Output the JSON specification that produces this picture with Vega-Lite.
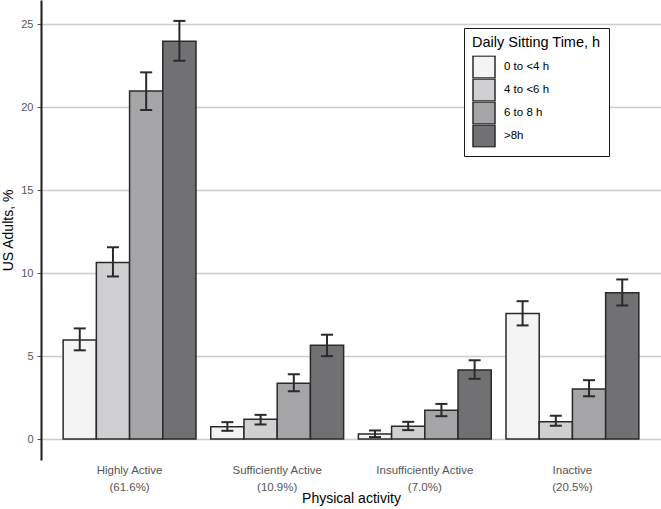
{
  "$schema": "https://vega.github.io/schema/vega-lite/v6.json",
  "width": 620,
  "height": 460,
  "autosize": "none",
  "padding": {"left": 41, "top": 0, "right": 0, "bottom": 49},
  "config": {
    "font": "Liberation Sans",
    "view": {"stroke": null}
  },
  "data": {
    "values": [
      {"activity": "Highly Active|(61.6%)", "sitting": "0 to <4 h", "value": 5.97, "lo": 5.35, "hi": 6.67},
      {"activity": "Highly Active|(61.6%)", "sitting": "4 to <6 h", "value": 10.64, "lo": 9.8, "hi": 11.56},
      {"activity": "Highly Active|(61.6%)", "sitting": "6 to 8 h", "value": 20.97, "lo": 19.83, "hi": 22.1},
      {"activity": "Highly Active|(61.6%)", "sitting": ">8h", "value": 23.98, "lo": 22.8, "hi": 25.2},
      {"activity": "Sufficiently Active|(10.9%)", "sitting": "0 to <4 h", "value": 0.74, "lo": 0.5, "hi": 1.02},
      {"activity": "Sufficiently Active|(10.9%)", "sitting": "4 to <6 h", "value": 1.2, "lo": 0.88, "hi": 1.46},
      {"activity": "Sufficiently Active|(10.9%)", "sitting": "6 to 8 h", "value": 3.37, "lo": 2.88, "hi": 3.9},
      {"activity": "Sufficiently Active|(10.9%)", "sitting": ">8h", "value": 5.65, "lo": 5.0, "hi": 6.29},
      {"activity": "Insufficiently Active|(7.0%)", "sitting": "0 to <4 h", "value": 0.3, "lo": 0.12, "hi": 0.52},
      {"activity": "Insufficiently Active|(7.0%)", "sitting": "4 to <6 h", "value": 0.78, "lo": 0.54, "hi": 1.04},
      {"activity": "Insufficiently Active|(7.0%)", "sitting": "6 to 8 h", "value": 1.74, "lo": 1.38, "hi": 2.12},
      {"activity": "Insufficiently Active|(7.0%)", "sitting": ">8h", "value": 4.17, "lo": 3.63, "hi": 4.75},
      {"activity": "Inactive|(20.5%)", "sitting": "0 to <4 h", "value": 7.57, "lo": 6.85, "hi": 8.31},
      {"activity": "Inactive|(20.5%)", "sitting": "4 to <6 h", "value": 1.04, "lo": 0.8, "hi": 1.4},
      {"activity": "Inactive|(20.5%)", "sitting": "6 to 8 h", "value": 3.02, "lo": 2.58, "hi": 3.55},
      {"activity": "Inactive|(20.5%)", "sitting": ">8h", "value": 8.82, "lo": 8.05, "hi": 9.62}
    ]
  },
  "encoding": {
    "x": {
      "field": "activity",
      "type": "nominal",
      "sort": ["Highly Active|(61.6%)", "Sufficiently Active|(10.9%)", "Insufficiently Active|(7.0%)", "Inactive|(20.5%)"],
      "scale": {"paddingInner": 0.1, "paddingOuter": 0.15},
      "axis": {
        "title": "Physical activity",
        "titleFontSize": 14,
        "titleFontWeight": "normal",
        "titleColor": "#000000",
        "titlePadding": -1,
        "labelExpr": "split(datum.label, '|')",
        "labelAngle": 0,
        "labelFontSize": 11.5,
        "labelColor": "#555555",
        "labelPadding": 4,
        "labelLineHeight": 17,
        "domain": false,
        "ticks": false
      }
    },
    "xOffset": {
      "field": "sitting",
      "type": "nominal",
      "sort": ["0 to <4 h", "4 to <6 h", "6 to 8 h", ">8h"],
      "scale": {"paddingInner": 0, "paddingOuter": 0}
    }
  },
  "layer": [
    {
      "mark": {"type": "bar", "stroke": "#2a2a2a", "strokeWidth": 1.5},
      "encoding": {
        "y": {
          "field": "value",
          "type": "quantitative",
          "scale": {"domain": [-1.26, 26.46], "nice": false, "zero": false},
          "axis": {
            "title": "US Adults, %",
            "titleFontSize": 14,
            "titleFontWeight": "normal",
            "titleColor": "#000000",
            "titlePadding": 5,
            "values": [0, 5, 10, 15, 20, 25],
            "labelFontSize": 11,
            "labelColor": "#555555",
            "labelPadding": 4,
            "tickSize": 4,
            "tickColor": "#555555",
            "domainColor": "#1a1a1a",
            "domainWidth": 2,
            "gridColor": "#cccccc",
            "gridWidth": 1.5
          }
        },
        "y2": {"datum": 0},
        "fill": {
          "field": "sitting",
          "type": "nominal",
          "sort": ["0 to <4 h", "4 to <6 h", "6 to 8 h", ">8h"],
          "scale": {"range": ["#f4f4f4", "#d0d0d2", "#a5a5a7", "#717173"]},
          "legend": {
            "title": "Daily Sitting Time, h",
            "orient": "none",
            "legendX": 423,
            "legendY": 28,
            "titleFontSize": 14.5,
            "titleFontWeight": "normal",
            "titleColor": "#000000",
            "titlePadding": 5,
            "labelFontSize": 11.5,
            "labelColor": "#000000",
            "labelOffset": 8,
            "symbolType": "square",
            "symbolSize": 484,
            "symbolStrokeColor": "#2a2a2a",
            "symbolStrokeWidth": 1.5,
            "symbolOpacity": 1,
            "clipHeight": 23,
            "rowPadding": 0,
            "padding": 8,
            "strokeColor": "#1a1a1a",
            "fillColor": "#ffffff"
          }
        }
      }
    },
    {
      "mark": {"type": "rule", "stroke": "#2a2a2a", "strokeWidth": 2},
      "encoding": {
        "y": {"field": "lo", "type": "quantitative"},
        "y2": {"field": "hi"}
      }
    },
    {
      "mark": {"type": "tick", "orient": "horizontal", "size": 12, "thickness": 2, "color": "#2a2a2a", "opacity": 1},
      "encoding": {
        "y": {"field": "lo", "type": "quantitative"}
      }
    },
    {
      "mark": {"type": "tick", "orient": "horizontal", "size": 12, "thickness": 2, "color": "#2a2a2a", "opacity": 1},
      "encoding": {
        "y": {"field": "hi", "type": "quantitative"}
      }
    }
  ]
}
